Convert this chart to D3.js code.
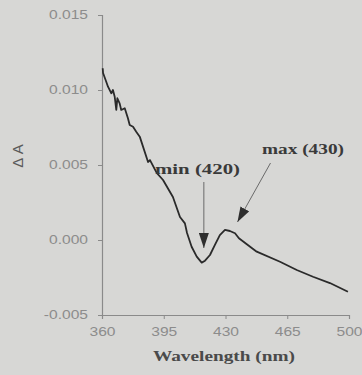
<!DOCTYPE html>
<html>
<head>
<meta charset="utf-8">
<script src="https://cdn.jsdelivr.net/npm/d3@7/dist/d3.min.js"></script>
<style>
  html, body { margin: 0; padding: 0; background: #d7d7d5; }
  svg { display: block; }
</style>
</head>
<body>
<svg id="chart" width="362" height="375"></svg>
<script>
// Difference spectrum: wavelength (nm) and absorbance change (ΔA)
const wavelengths = [
  360.4, 360.6, 362.4, 363.4, 365.3, 366.2, 367.2, 368.1, 368.7, 370.0,
  370.9, 372.9, 374.7, 375.7, 377.6, 379.4, 381.4, 386.1, 387.2, 391.0,
  394.6, 400.2, 404.2, 407.0, 408.2, 410.8, 413.7, 416.5, 418.4, 421.2,
  424.0, 426.8, 429.7, 432.5, 435.4, 437.6, 447.7, 460.9, 470.4, 479.6,
  489.2, 499.4
];
const deltaA = [
  0.01145, 0.01113, 0.01055, 0.01022, 0.00978, 0.01000, 0.00955, 0.00867, 0.00945, 0.00911,
  0.00867, 0.00878, 0.00811, 0.00767, 0.00755, 0.00722, 0.00689, 0.00520, 0.00533, 0.00447,
  0.00400, 0.00287, 0.00153, 0.00111, 0.00047, -0.00045, -0.00111, -0.00151, -0.00138, -0.00100,
  -0.00033, 0.00033, 0.00067, 0.00060, 0.00045, 0.00012, -0.00078, -0.00145, -0.00200, -0.00245,
  -0.00287, -0.00345
];

const xTicks = [360, 395, 430, 465, 500];
const yTicks = [-0.005, 0.000, 0.005, 0.010, 0.015];
const yTickLabels = ["-0.005", "0.000", "0.005", "0.010", "0.015"];

// Annotated extrema
const annLabels = ["min (420)", "max (430)"];
const annWavelengths = [420, 430];

const xTitle = "Wavelength (nm)";
const yTitle = "Δ A";

const svg = d3.select("#chart");
const W = 362, H = 375;
const plotLeft = 102, plotRight = 349, plotTop = 15, plotBottom = 315;

svg.append("rect").attr("width", W).attr("height", H).attr("fill", "#d7d7d5");

const x = d3.scaleLinear().domain([360, 500]).range([plotLeft, plotRight]);
const y = d3.scaleLinear().domain([-0.005, 0.015]).range([plotBottom, plotTop]);

const axisColor = "#8a8a8a";
const tickText = "#8c8c8c";
const sx = 1.3; // horizontal text stretch

// Y axis
const yAxis = svg.append("g").attr("transform", `translate(${plotLeft},0)`)
  .call(d3.axisLeft(y).tickValues(yTicks).tickSize(4).tickPadding(6)
    .tickFormat((d, i) => yTickLabels[i]));
yAxis.select(".domain").attr("stroke", axisColor).attr("stroke-width", 1.2);
yAxis.selectAll(".tick line").attr("stroke", axisColor);
yAxis.selectAll(".tick text")
  .attr("fill", tickText)
  .attr("font-family", "Liberation Sans, Arial, sans-serif")
  .attr("font-size", 12)
  .each(function () {
    const t = d3.select(this);
    const xx = +t.attr("x");
    t.attr("x", null).attr("transform", `translate(${xx - 4},0) scale(${sx},1)`);
  });

// X axis
const xAxis = svg.append("g").attr("transform", `translate(0,${plotBottom})`)
  .call(d3.axisBottom(x).tickValues(xTicks).tickSize(4).tickPadding(8)
    .tickFormat(d3.format("d")));
xAxis.select(".domain").attr("stroke", axisColor).attr("stroke-width", 1.2);
xAxis.selectAll(".tick line").attr("stroke", axisColor);
xAxis.selectAll(".tick text")
  .attr("fill", tickText)
  .attr("font-family", "Liberation Sans, Arial, sans-serif")
  .attr("font-size", 12)
  .each(function () {
    const t = d3.select(this);
    const yy = +t.attr("y");
    t.attr("y", null).attr("dy", "0.71em").attr("transform", `translate(0,${yy}) scale(${sx},1)`);
  });

// Spectrum curve
const pts = wavelengths.map((w, i) => [w, deltaA[i]]);
svg.append("path")
  .datum(pts)
  .attr("fill", "none")
  .attr("stroke", "#2a2a2a")
  .attr("stroke-width", 1.8)
  .attr("stroke-linejoin", "round")
  .attr("d", d3.line().x(d => x(d[0])).y(d => y(d[1])));

// Axis titles
svg.append("text")
  .attr("x", 153).attr("y", 361)
  .attr("textLength", 142).attr("lengthAdjust", "spacingAndGlyphs")
  .attr("font-family", "Liberation Serif, Times New Roman, serif")
  .attr("font-weight", "bold").attr("font-size", 15)
  .attr("fill", "#4a4a4a")
  .text(xTitle);

svg.append("text")
  .attr("transform", "translate(23,156) rotate(-90)")
  .attr("text-anchor", "middle")
  .attr("font-family", "Liberation Sans, Arial, sans-serif")
  .attr("font-size", 15)
  .attr("fill", "#5a5a5a")
  .text(yTitle);

// Arrow markers
const defs = svg.append("defs");
defs.append("marker")
  .attr("id", "head")
  .attr("viewBox", "0 0 10 10")
  .attr("refX", 10).attr("refY", 5)
  .attr("markerWidth", 15).attr("markerHeight", 10)
  .attr("markerUnits", "userSpaceOnUse")
  .attr("orient", "auto")
  .attr("preserveAspectRatio", "none")
  .append("path")
  .attr("d", "M0,0 L10,5 L0,10 Z")
  .attr("fill", "#2e2e2e");

// Minimum annotation: vertical arrow down onto the trough
const minX = x(annWavelengths[0]) - 4;
svg.append("line")
  .attr("x1", minX).attr("y1", 182)
  .attr("x2", minX).attr("y2", 248)
  .attr("stroke", "#6a6a6a").attr("stroke-width", 1)
  .attr("marker-end", "url(#head)");
svg.append("text")
  .attr("x", 155).attr("y", 174)
  .attr("textLength", 85).attr("lengthAdjust", "spacingAndGlyphs")
  .attr("font-family", "Liberation Serif, Times New Roman, serif")
  .attr("font-weight", "bold").attr("font-size", 15)
  .attr("fill", "#3a3a3a")
  .text(annLabels[0]);

// Maximum annotation: diagonal arrow onto the shoulder of the peak
const maxX = x(annWavelengths[1]);
svg.append("line")
  .attr("x1", maxX + 45).attr("y1", 163)
  .attr("x2", maxX + 12).attr("y2", 222)
  .attr("stroke", "#6a6a6a").attr("stroke-width", 1)
  .attr("marker-end", "url(#head)");
svg.append("text")
  .attr("x", 262).attr("y", 154)
  .attr("textLength", 82).attr("lengthAdjust", "spacingAndGlyphs")
  .attr("font-family", "Liberation Serif, Times New Roman, serif")
  .attr("font-weight", "bold").attr("font-size", 15)
  .attr("fill", "#3a3a3a")
  .text(annLabels[1]);
</script>
</body>
</html>
